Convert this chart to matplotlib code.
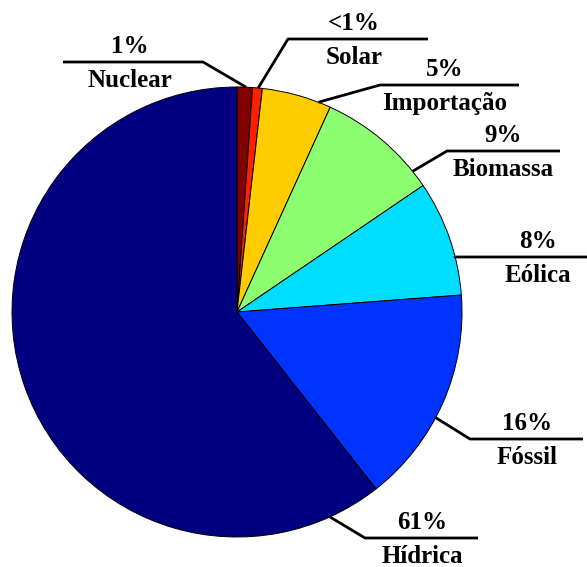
import numpy as np
import matplotlib.pyplot as plt

plt.rcParams['font.family'] = ['Liberation Serif', 'DejaVu Serif']
plt.rcParams['font.weight'] = 'bold'

# Electricity sources, shares in percent (clockwise from the top)
sources = ['Nuclear', 'Solar', 'Importação', 'Biomassa', 'Eólica', 'Fóssil', 'Hídrica']
shares = [1.1, 0.7, 5.0, 8.7, 8.3, 15.6, 60.6]
colors = ['#7f0000', '#ff2000', '#ffcc00', '#8cff70', '#00ddff', '#0033ff', '#000080']

# Label layout in pixel units: anchor angle on the rim (deg clockwise from top),
# elbow of the leader, end of the horizontal rule, text centre
anchor_deg = [2.3, 5.4, 21.2, 51.3, 75.8, 118.0, 155.6]
elbow = [(203, 62), (288, 39), (380, 85), (447, 151), (455, 257), (470, 439), (365, 538)]
rule_end = [63, 428, 519, 560, 590, 583, 478]
text_x = [130, 354, 445, 503, 538, 527, 422]

cx, cy, r = 237, 312, 225

fig = plt.figure(figsize=(5.87, 5.67), dpi=100)
ax = fig.add_axes([0, 0, 1, 1])

# y axis runs downward, so start at -90 and go counter-clockwise in data space
ax.pie(shares, colors=colors, startangle=-90, counterclock=True,
       center=(cx, cy), radius=r,
       wedgeprops=dict(edgecolor='black', linewidth=0.7))

for name, v, a, (ex, ey), x_end, tx in zip(sources, shares, anchor_deg, elbow, rule_end, text_x):
    t = np.deg2rad(a)
    px, py = cx + r * np.sin(t), cy - r * np.cos(t)
    ax.plot([px, ex, x_end], [py, ey, ey], color='black', lw=2, solid_capstyle='butt', clip_on=False)
    pct = '<1%' if v < 1 else f'{round(v)}%'
    ax.text(tx, ey - 9, pct, ha='center', va='baseline', fontsize=18, fontweight='bold')
    ax.text(tx, ey + 25, name, ha='center', va='baseline', fontsize=18, fontweight='bold')

ax.set_xlim(0, 587)
ax.set_ylim(567, 0)
ax.set_aspect('auto')
ax.axis('off')

fig.savefig('out.png', dpi=100, facecolor='white')
